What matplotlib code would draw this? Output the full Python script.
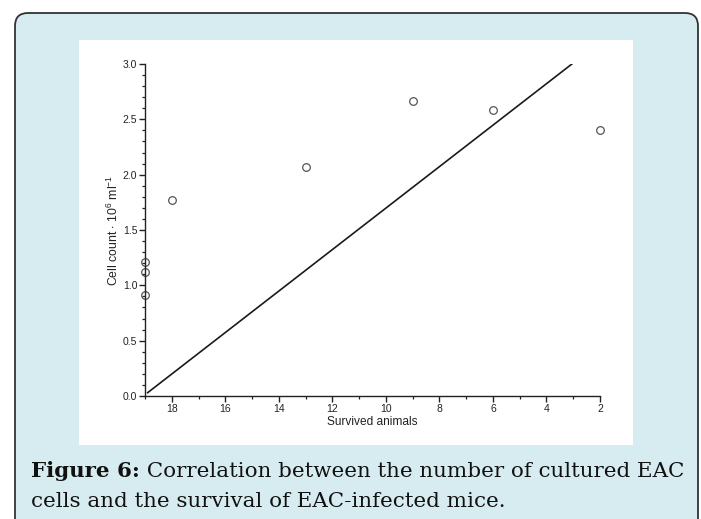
import matplotlib
matplotlib.use("Agg")
import matplotlib.pyplot as plt
from matplotlib.patches import FancyBboxPatch, Rectangle
from matplotlib.ticker import MultipleLocator

# data
survived = [19, 19, 19, 18, 13, 9, 6, 2]
cell_count = [0.91, 1.12, 1.21, 1.77, 2.07, 2.67, 2.58, 2.40]
fit_x = [18.9, 3.05]
fit_y = [0.03, 3.0]
x_ticks = [18, 16, 14, 12, 10, 8, 6, 4, 2]
y_ticks = [0.0, 0.5, 1.0, 1.5, 2.0, 2.5, 3.0]

caption_bold = "Figure 6:"
caption_1 = " Correlation between the number of cultured EAC"
caption_2 = "cells and the survival of EAC-infected mice."

plt.rcParams['font.family'] = ['Liberation Sans', 'DejaVu Sans']
plt.rcParams['mathtext.fontset'] = 'custom'
plt.rcParams['mathtext.rm'] = 'Liberation Sans'
plt.rcParams['mathtext.it'] = 'Liberation Sans:italic'

W, H = 701, 519
fig = plt.figure(figsize=(W / 100, H / 100), dpi=100)

# background panel in pixel coordinates
bg = fig.add_axes([0, 0, 1, 1])
bg.set_xlim(0, W)
bg.set_ylim(H, 0)
bg.axis('off')
bg.add_patch(FancyBboxPatch((15, 13), 683, 540,
                            boxstyle="round,pad=0,rounding_size=13",
                            facecolor='#d7ecf1', edgecolor='#333333', linewidth=1.3))
bg.add_patch(Rectangle((79, 40), 554, 405, facecolor='white', edgecolor='none'))

# caption
serif = ['DejaVu Serif']
fs = 15.4
t1 = bg.text(31, 477, caption_bold, fontsize=fs, fontweight='bold',
             family=serif, va='baseline', ha='left', color='#111111')
fig.canvas.draw()
r = fig.canvas.get_renderer()
w = t1.get_window_extent(r).width
bg.text(31 + w, 477, caption_1, fontsize=fs, family=serif,
        va='baseline', ha='left', color='#111111')
bg.text(31, 507, caption_2, fontsize=fs, family=serif,
        va='baseline', ha='left', color='#111111')

# main plot
ax = fig.add_axes([145 / W, 1 - 396 / H, (600 - 145) / W, (396 - 64) / H])
ax.patch.set_visible(False)
ax.plot(fit_x, fit_y, color='#1a1a1a', linewidth=1.2)
ax.plot(survived, cell_count, linestyle='none', marker='o', markersize=5.5,
        markerfacecolor='none', markeredgecolor='#555555', markeredgewidth=0.9,
        clip_on=False)

ax.set_xlim(19, 2)
ax.set_ylim(0, 3)
ax.set_xticks(x_ticks)
ax.set_yticks(y_ticks)
ax.set_yticklabels([f"{v:.1f}" for v in y_ticks])
ax.xaxis.set_minor_locator(MultipleLocator(1))
ax.yaxis.set_minor_locator(MultipleLocator(0.1))
for s in ['top', 'right']:
    ax.spines[s].set_visible(False)
for s in ['left', 'bottom']:
    ax.spines[s].set_linewidth(1.0)
    ax.spines[s].set_color('#222222')
ax.tick_params(which='major', length=4, width=1.0, labelsize=7.5, pad=1.5,
               color='#222222', labelcolor='#222222')
ax.tick_params(which='minor', length=2.5, width=0.9, color='#222222')
ax.set_xlabel("Survived animals", fontsize=8.6, labelpad=1.5, color='#222222')
ax.set_ylabel(r"Cell count $\cdot$ 10$^{6}$ ml$^{-1}$", fontsize=8.8,
              labelpad=1.5, color='#222222')

fig.savefig("out.png", dpi=100)
